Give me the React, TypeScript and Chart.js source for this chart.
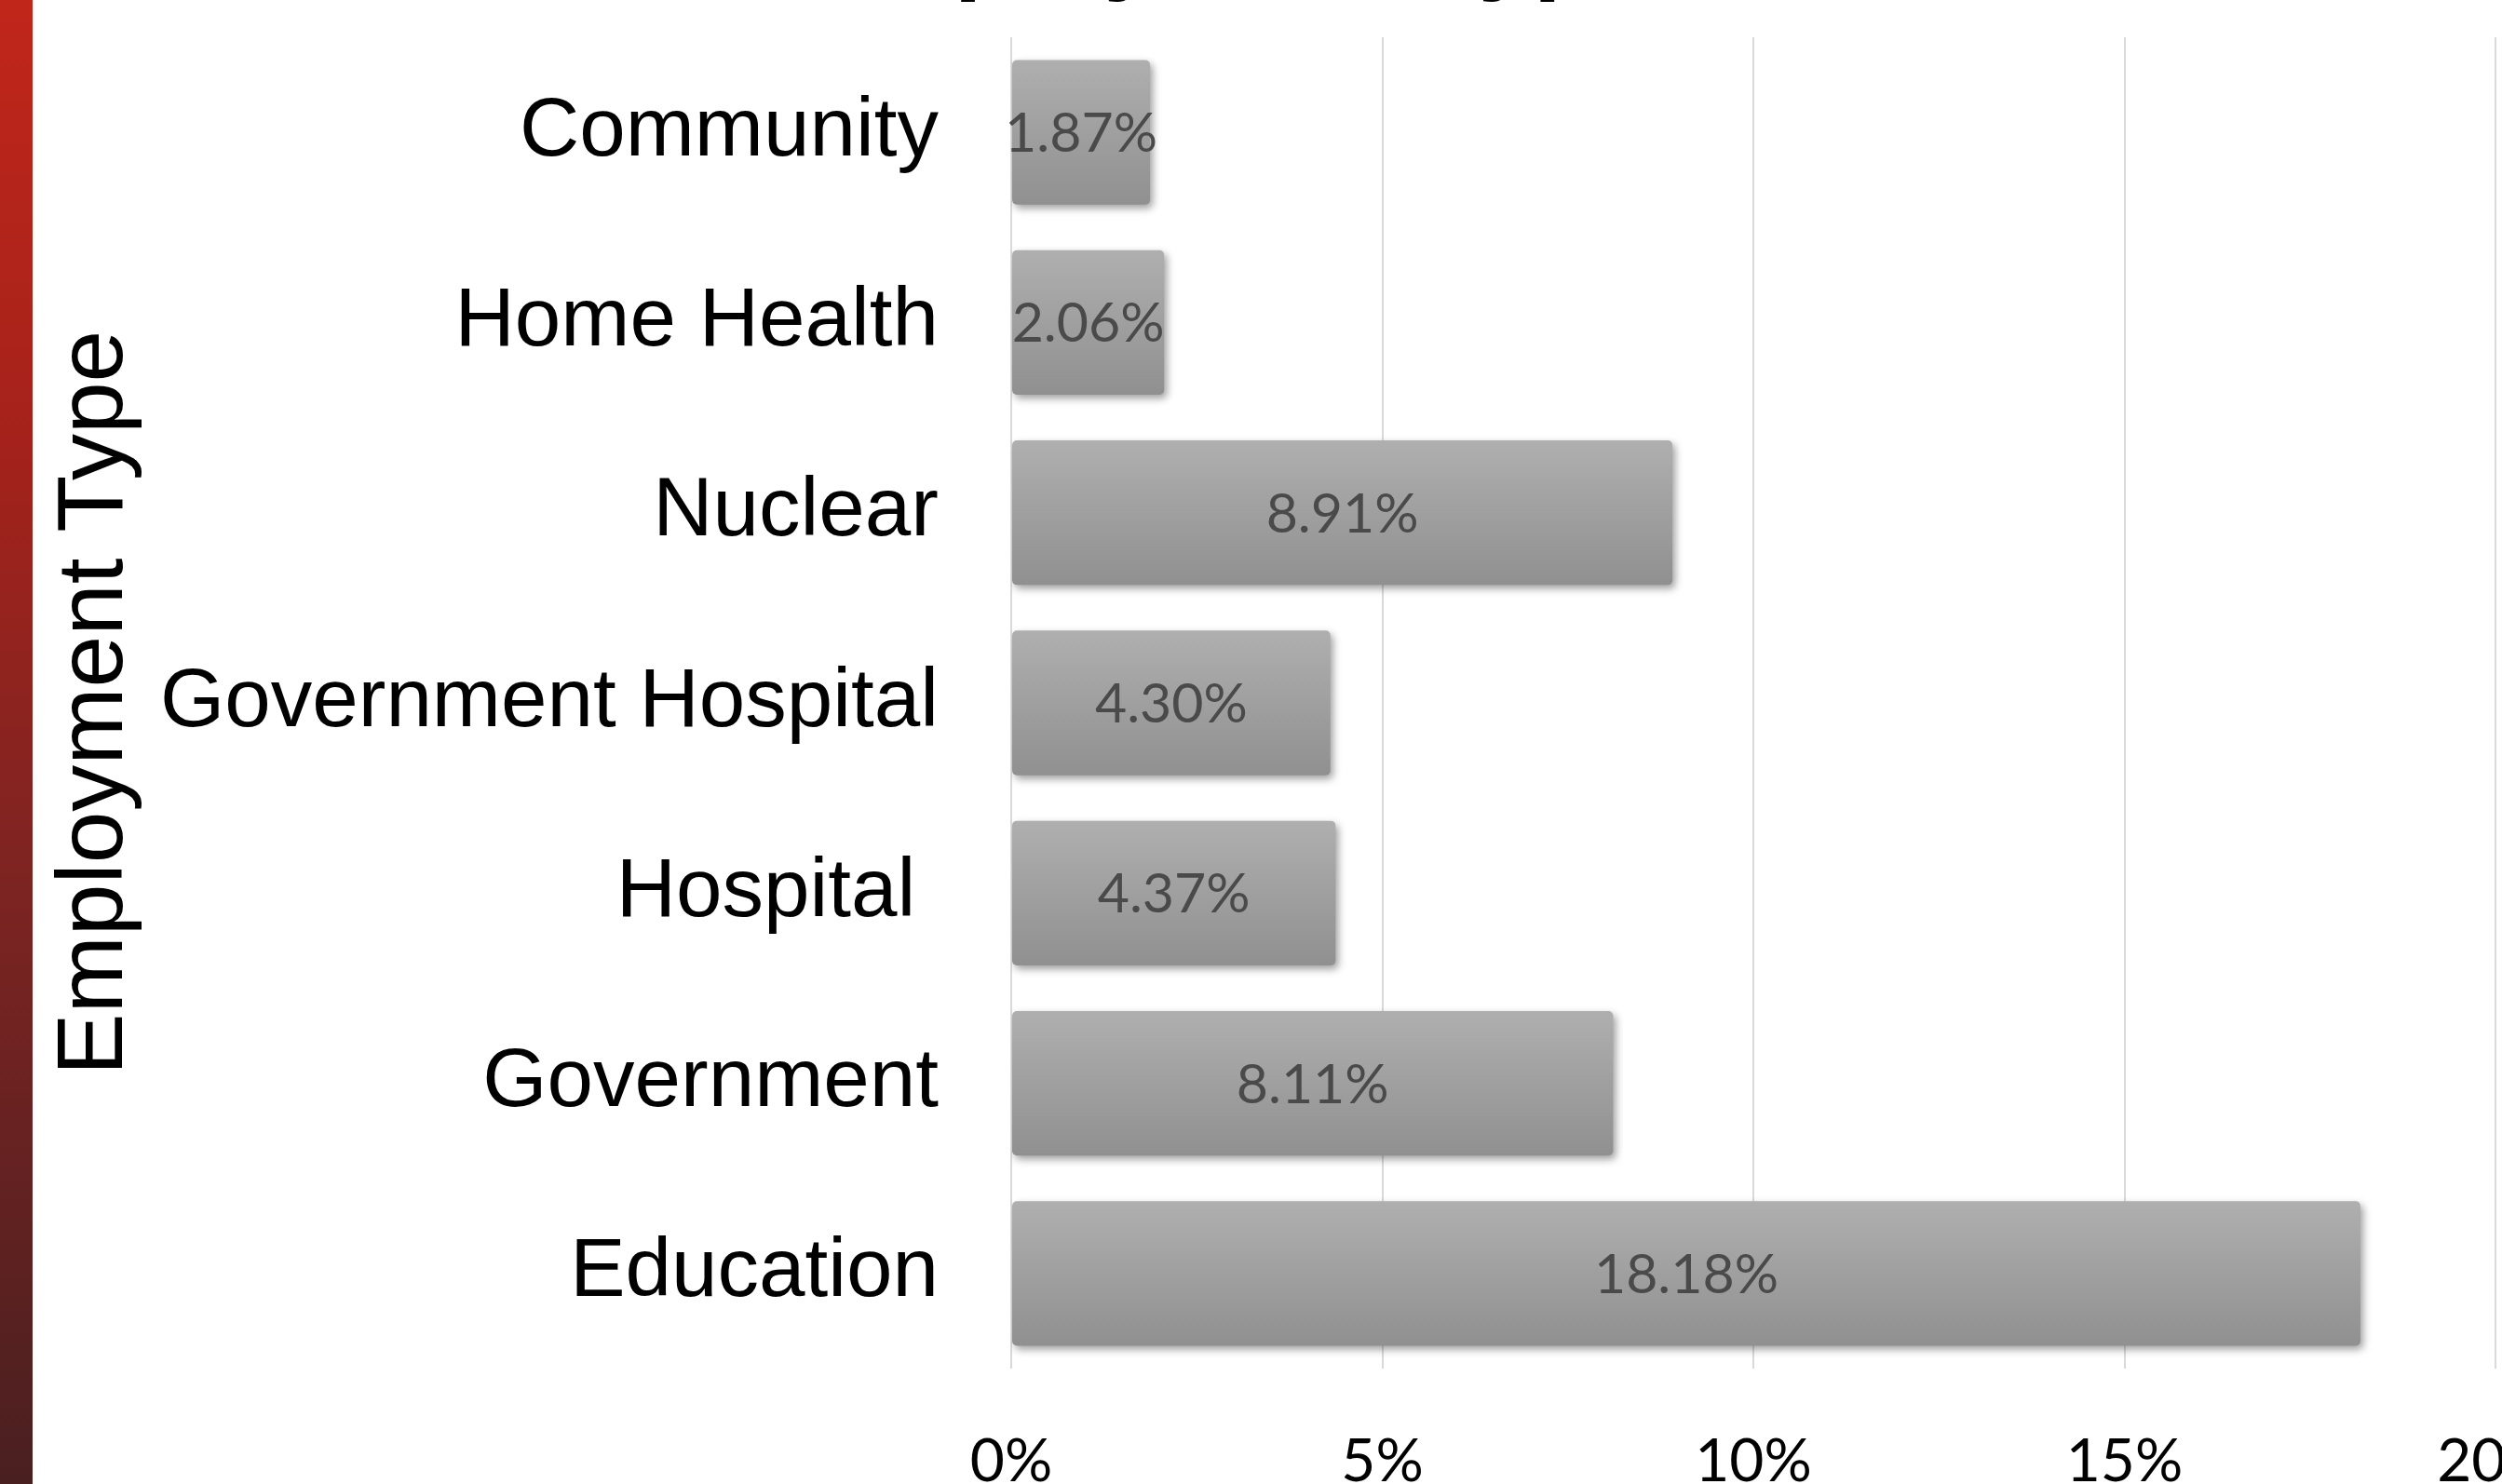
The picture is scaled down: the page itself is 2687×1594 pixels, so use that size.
import React, { useEffect, useRef } from "react";
import { Chart, registerables } from "chart.js";

Chart.register(...registerables);

const categories = [
  "Community",
  "Home Health",
  "Nuclear",
  "Government Hospital",
  "Hospital ",
  "Government",
  "Education",
];
const percentValues = [1.87, 2.06, 8.91, 4.3, 4.37, 8.11, 18.18];
const valueLabels = ["1.87%", "2.06%", "8.91%", "4.30%", "4.37%", "8.11%", "18.18%"];
const xTickValues = [0, 5, 10, 15, 20];
const chartTitle = "Employment Type";
const axisTitle = "Employment Type";

const W = 2687;
const H = 1594;
const BAR_PCT = 0.76;

function zeroPadding(scale: any) {
  scale.paddingTop = 0;
  scale.paddingBottom = 0;
  scale.paddingLeft = 0;
  scale.paddingRight = 0;
}

export default function App() {
  const ref = useRef<HTMLCanvasElement | null>(null);

  useEffect(() => {
    document.body.style.margin = "0";
    document.body.style.overflow = "hidden";
    const canvas = ref.current;
    if (!canvas) return;

    const backgroundPlugin = {
      id: "bgStrip",
      beforeDraw(chart: any) {
        const ctx = chart.ctx;
        ctx.save();
        const g = ctx.createLinearGradient(0, 0, 0, H);
        g.addColorStop(0, "#c1261a");
        g.addColorStop(0.3, "#a4221b");
        g.addColorStop(0.6, "#7c2422");
        g.addColorStop(1, "#4a1f20");
        ctx.fillStyle = g;
        ctx.fillRect(0, 0, 35, H);
        ctx.restore();
      },
      afterDraw(chart: any) {
        const ctx = chart.ctx;
        ctx.save();
        ctx.font = "bold 107px 'Liberation Sans', Arial, sans-serif";
        ctx.fillStyle = "#000";
        ctx.textAlign = "center";
        ctx.textBaseline = "alphabetic";
        ctx.fillText(chartTitle, 1315, -20);
        ctx.restore();
      },
    };

    const shadowPlugin = {
      id: "barShadow",
      beforeDatasetDraw(chart: any) {
        const ctx = chart.ctx;
        ctx.save();
        ctx.shadowColor = "rgba(0,0,0,0.38)";
        ctx.shadowBlur = 8;
        ctx.shadowOffsetX = 3;
        ctx.shadowOffsetY = 4;
      },
      afterDatasetDraw(chart: any) {
        chart.ctx.restore();
      },
    };

    const labelPlugin = {
      id: "valueLabels",
      afterDatasetsDraw(chart: any) {
        const ctx = chart.ctx;
        const meta = chart.getDatasetMeta(0);
        ctx.save();
        ctx.font = "59px Lato, 'Open Sans', sans-serif";
        ctx.fillStyle = "#4a4a4a";
        ctx.textAlign = "center";
        ctx.textBaseline = "middle";
        meta.data.forEach((bar: any, i: number) => {
          const cx = (bar.x + bar.base) / 2;
          ctx.fillText(valueLabels[i], cx, bar.y + 2);
        });
        ctx.restore();
      },
    };

    const chart = new Chart(canvas, {
      type: "bar",
      data: {
        labels: categories,
        datasets: [
          {
            data: percentValues,
            backgroundColor: (c: any) => {
              const ch = c.chart;
              const ys = ch.scales && ch.scales.y;
              if (!ch.chartArea || !ys || c.type !== "data") return "#a2a2a2";
              const yc = ys.getPixelForValue(c.dataIndex);
              const half = ((ys.bottom - ys.top) / categories.length) * BAR_PCT / 2;
              const g = ch.ctx.createLinearGradient(0, yc - half, 0, yc + half);
              g.addColorStop(0, "#afafaf");
              g.addColorStop(1, "#909090");
              return g;
            },
            borderWidth: 0,
            borderRadius: 5,
            borderSkipped: false,
            barPercentage: BAR_PCT,
            categoryPercentage: 1,
          },
        ],
      },
      options: {
        indexAxis: "y",
        responsive: false,
        maintainAspectRatio: false,
        animation: false,
        devicePixelRatio: 1,
        layout: {
          autoPadding: false,
          padding: { top: 40, right: 7, bottom: 0, left: 0 },
        },
        plugins: {
          legend: { display: false },
          tooltip: { enabled: false },
          title: { display: false },
        },
        scales: {
          x: {
            type: "linear",
            position: "bottom",
            min: 0,
            max: 20,
            afterBuildTicks: (scale: any) => {
              scale.ticks = xTickValues.map((v) => ({ value: v }));
            },
            afterFit: (scale: any) => {
              scale.height = H - 1470;
              zeroPadding(scale);
            },
            ticks: {
              stepSize: 5,
              callback: (v: any) => v + "%",
              font: { family: "Lato, 'Open Sans', sans-serif", size: 64 },
              color: "#000",
              padding: 62,
              maxRotation: 0,
            },
            grid: {
              color: "#d9d9d9",
              lineWidth: 2,
              drawTicks: false,
            },
            border: { display: false },
          },
          y: {
            type: "category",
            afterFit: (scale: any) => {
              scale.width = 1086;
              zeroPadding(scale);
            },
            ticks: {
              font: { family: "'Liberation Sans', Arial, sans-serif", size: 89 },
              color: "#000",
              padding: 78,
            },
            grid: { display: false, drawTicks: false },
            border: { display: false },
            title: {
              display: true,
              text: axisTitle,
              font: { family: "'Liberation Sans', Arial, sans-serif", size: 100, lineHeight: 1 },
              color: "#000",
              padding: { top: 53, bottom: 0 },
            },
          },
        },
      },
      plugins: [backgroundPlugin, shadowPlugin, labelPlugin],
    } as any);

    return () => {
      chart.destroy();
    };
  }, []);

  return (
    <div style={{ width: W, height: H, overflow: "hidden", background: "#fff" }}>
      <canvas ref={ref} width={W} height={H} style={{ display: "block", width: W, height: H }} />
    </div>
  );
}
